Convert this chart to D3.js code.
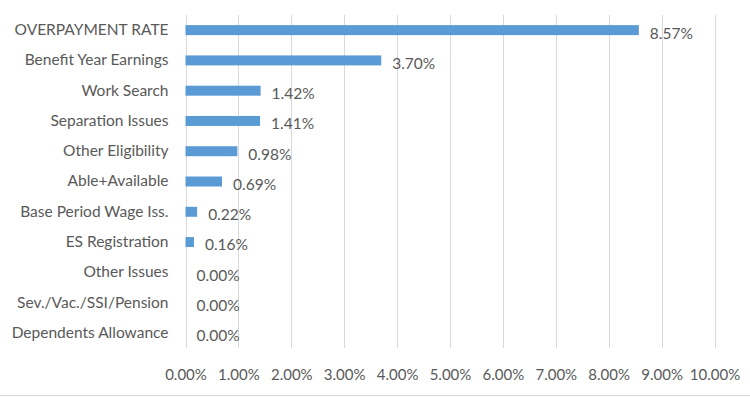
<!DOCTYPE html>
<html lang="en">
<head>
<meta charset="utf-8">
<script src="https://d3js.org/d3.v7.min.js"></script>
<style>
  body { margin: 0; background: #fff; }
  svg text { font-family: Lato, "Open Sans", sans-serif; fill: #595959; }
</style>
</head>
<body>
<script>
// chart data
const categories = [
  "OVERPAYMENT RATE",
  "Benefit Year Earnings",
  "Work Search",
  "Separation Issues",
  "Other Eligibility",
  "Able+Available",
  "Base Period Wage Iss.",
  "ES Registration",
  "Other Issues",
  "Sev./Vac./SSI/Pension",
  "Dependents Allowance"
];
const rates = [8.57, 3.70, 1.42, 1.41, 0.98, 0.69, 0.22, 0.16, 0.00, 0.00, 0.00];
const xTicks = [0, 1, 2, 3, 4, 5, 6, 7, 8, 9, 10];

const width = 750, height = 397;
const margin = {top: 15, right: 35.5, bottom: 49, left: 185.5};

const svg = d3.select("body").append("svg")
  .attr("width", width)
  .attr("height", height);

const x = d3.scaleLinear()
  .domain([0, 10])
  .range([margin.left, width - margin.right]);

const y = d3.scaleBand()
  .domain(categories)
  .range([margin.top, height - margin.bottom])
  .paddingInner(0.67)
  .paddingOuter(0.335);

const fmt = d => d.toFixed(2) + "%";

// gridlines
svg.append("g")
  .selectAll("line")
  .data(xTicks)
  .join("line")
    .attr("x1", d => Math.round(x(d)) + 0.5)
    .attr("x2", d => Math.round(x(d)) + 0.5)
    .attr("y1", margin.top)
    .attr("y2", height - margin.bottom)
    .attr("stroke", "#d9d9d9")
    .attr("stroke-width", 1);

// bottom axis labels
const xAxis = d3.axisBottom(x)
  .tickValues(xTicks)
  .tickFormat(fmt)
  .tickSize(0)
  .tickPadding(0);

svg.append("g")
  .attr("transform", `translate(0,${height - margin.bottom + 27})`)
  .call(xAxis)
  .call(g => g.select(".domain").remove())
  .call(g => g.selectAll("text")
    .attr("dy", "0.35em")
    .style("font-size", "15px")
    .style("font-family", "Lato, sans-serif")
    .attr("fill", "#595959"));

// category axis
const yAxis = d3.axisLeft(y).tickSize(0).tickPadding(17);
svg.append("g")
  .attr("transform", `translate(${margin.left},0)`)
  .call(yAxis)
  .call(g => g.select(".domain").remove())
  .call(g => g.selectAll("text")
    .style("font-size", "15.5px")
    .style("font-family", "Lato, sans-serif")
    .attr("fill", "#595959"));

// bars
svg.append("g")
  .selectAll("rect")
  .data(rates)
  .join("rect")
    .attr("x", x(0))
    .attr("y", (d, i) => y(categories[i]))
    .attr("width", d => x(d) - x(0))
    .attr("height", y.bandwidth())
    .attr("fill", "#5b9bd5");

// value labels
svg.append("g")
  .selectAll("text")
  .data(rates)
  .join("text")
    .attr("x", d => x(d) + 11)
    .attr("y", (d, i) => y(categories[i]) + y.bandwidth() / 2 + 3)
    .attr("dy", "0.35em")
    .style("font-size", "15.5px")
    .text(fmt);

// bottom chart border
svg.append("line")
  .attr("x1", 0)
  .attr("x2", width)
  .attr("y1", 395.5)
  .attr("y2", 395.5)
  .attr("stroke", "#d9d9d9");
</script>
</body>
</html>
